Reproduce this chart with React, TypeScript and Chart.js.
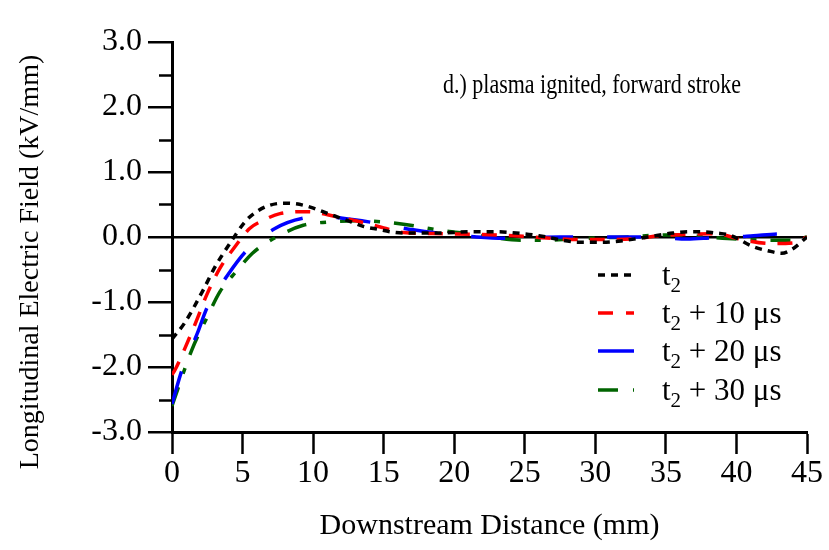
import React, { useEffect, useRef } from "react";
import { Chart, registerables } from "chart.js";

Chart.register(...registerables);

const seriesLabels = ["t₂", "t₂ + 10 μs", "t₂ + 20 μs", "t₂ + 30 μs"];

const xT2 = [0, 0.9, 2.2, 3.05, 4.1, 5.2, 6.0, 6.95, 7.9, 8.8, 9.8, 10.7, 11.7, 12.6, 13.6, 14.3, 16.4, 18.8, 21.1, 23.0, 24.9, 26.0, 28.9, 30.5, 31.8, 33.7, 35.5, 36.7, 37.6, 38.6, 39.5, 41.2, 42.2, 43.2, 44.0, 45.0];
const yT2 = [-1.57, -1.32, -0.82, -0.46, -0.1, 0.24, 0.39, 0.49, 0.52, 0.51, 0.46, 0.39, 0.31, 0.24, 0.16, 0.13, 0.06, 0.06, 0.08, 0.08, 0.05, 0.02, -0.08, -0.08, -0.06, 0.0, 0.06, 0.08, 0.08, 0.06, 0.03, -0.15, -0.21, -0.25, -0.18, 0.0];

const xT10 = [0, 0.2, 0.92, 1.75, 2.46, 3.4, 4.46, 5.5, 6.5, 7.65, 9.55, 11.7, 13.8, 15.0, 16.4, 19.2, 23.0, 24.9, 27.0, 28.7, 30.8, 32.7, 34.6, 36.5, 38.6, 40.0, 42.4, 44.0, 45.0];
const yT10 = [-2.12, -2.05, -1.71, -1.28, -0.89, -0.48, -0.15, 0.13, 0.26, 0.36, 0.39, 0.31, 0.21, 0.14, 0.07, 0.05, 0.03, 0.01, -0.02, -0.04, -0.04, -0.03, 0.02, 0.04, 0.05, -0.02, -0.1, -0.09, 0.0];

const xT20 = [0, 0.7, 1.8, 2.5, 3.9, 5.2, 7.2, 9.3, 10.7, 12.1, 14.3, 17.1, 18.8, 21.6, 23.5, 27.5, 31.5, 34.0, 36.5, 38.4, 40.0, 41.2, 43.3, 45.0];
const yT20 = [-2.57, -2.05, -1.48, -1.08, -0.6, -0.23, 0.12, 0.29, 0.31, 0.29, 0.22, 0.11, 0.06, 0.0, -0.02, 0.0, 0.0, 0.0, -0.03, -0.01, 0.0, 0.02, 0.05, 0.0];

const xT30 = [0, 1.4, 2.5, 3.4, 4.6, 5.7, 7.4, 9.3, 11.0, 13.1, 15.0, 16.9, 18.8, 20.6, 22.5, 24.7, 26.6, 28.4, 30.5, 32.4, 34.4, 36.0, 37.9, 40.0, 42.4, 43.8, 45.0];
const yT30 = [-2.6, -1.74, -1.23, -0.84, -0.52, -0.25, 0.0, 0.18, 0.23, 0.25, 0.23, 0.18, 0.11, 0.06, 0.0, -0.05, -0.05, -0.03, -0.01, 0.0, 0.03, 0.03, 0.0, -0.03, -0.05, -0.05, 0.0];

const xTicks = [0, 5, 10, 15, 20, 25, 30, 35, 40, 45];
const yTicks = [-3, -2, -1, 0, 1, 2, 3];
const yMinorTicks = [-2.5, -1.5, -0.5, 0.5, 1.5, 2.5];

const xTitle = "Downstream Distance (mm)";
const yTitle = "Longitudinal Electric Field (kV/mm)";
const annotationText = "d.) plasma ignited, forward stroke";

const FONT = "'Liberation Serif', 'Times New Roman', serif";

const pts = (xs: number[], ys: number[]) => xs.map((x, i) => ({ x, y: ys[i] }));

const overlayPlugin = {
  id: "overlay",
  afterDraw(chart: any) {
    const { ctx, chartArea, scales } = chart;
    const ys = scales.y;
    ctx.save();
    // minor ticks on y axis
    ctx.strokeStyle = "#000";
    ctx.lineWidth = 2.5;
    yMinorTicks.forEach((v) => {
      const py = Math.round(ys.getPixelForValue(v)) + 0.5;
      ctx.beginPath();
      ctx.moveTo(chartArea.left - 13, py);
      ctx.lineTo(chartArea.left, py);
      ctx.stroke();
    });
    // titles
    ctx.fillStyle = "#000";
    ctx.font = `30px ${FONT}`;
    ctx.textAlign = "center";
    ctx.textBaseline = "middle";
    ctx.fillText(xTitle, (chartArea.left + chartArea.right) / 2, 526);
    ctx.save();
    ctx.font = `28px ${FONT}`;
    ctx.translate(31, 262);
    ctx.rotate(-Math.PI / 2);
    ctx.fillText(yTitle, 0, 0);
    ctx.restore();
    // annotation (condensed to the reference width)
    ctx.save();
    ctx.font = `27px ${FONT}`;
    ctx.textAlign = "left";
    const w = ctx.measureText(annotationText).width;
    const sx = 298 / w;
    ctx.translate(443, 86);
    ctx.scale(sx, 1);
    ctx.fillText(annotationText, 0, 0);
    ctx.restore();
    // legend
    const rowY = [275, 313, 351, 390];
    ctx.textAlign = "left";
    chart.data.datasets.forEach((ds: any, i: number) => {
      const y = rowY[i];
      ctx.save();
      ctx.strokeStyle = ds.borderColor;
      ctx.lineWidth = ds.borderWidth;
      ctx.setLineDash(ds.legendDash);
      ctx.beginPath();
      ctx.moveTo(598, y);
      ctx.lineTo(634, y);
      ctx.stroke();
      ctx.restore();
      const label: string = ds.label;
      const [pre, post] = label.split("₂");
      let x = 662;
      ctx.font = `31px ${FONT}`;
      ctx.textBaseline = "alphabetic";
      const base = y + 10;
      ctx.fillText(pre, x, base);
      x += ctx.measureText(pre).width;
      ctx.font = `21px ${FONT}`;
      ctx.fillText("2", x, base + 7);
      x += ctx.measureText("2").width;
      ctx.font = `31px ${FONT}`;
      ctx.fillText(post, x, base);
    });
    ctx.restore();
  },
};

export default function App() {
  const ref = useRef<HTMLCanvasElement>(null);
  useEffect(() => {
    document.body.style.margin = "0";
    const canvas = ref.current!;
    const chart = new Chart(canvas, {
      type: "line",
      data: {
        datasets: [
          { label: seriesLabels[0], data: pts(xT2, yT2), borderColor: "#000000", borderDash: [7, 6], legendDash: [7, 6] } as any,
          { label: seriesLabels[1], data: pts(xT10, yT10), borderColor: "#ff0000", borderDash: [15, 12], legendDash: [15, 13] } as any,
          { label: seriesLabels[2], data: pts(xT20, yT20), borderColor: "#0000ff", borderDash: [34, 34], legendDash: [] } as any,
          { label: seriesLabels[3], data: pts(xT30, yT30), borderColor: "#006400", borderDash: [20, 14, 6, 14], legendDash: [20, 15, 7, 15] } as any,
        ].map((d: any) => ({ ...d, borderWidth: 3.5, pointRadius: 0, fill: false, tension: 0.4, cubicInterpolationMode: "monotone" })),
      },
      options: {
        animation: false,
        responsive: false,
        maintainAspectRatio: false,
        layout: { padding: { left: 0, top: 42, right: 22, bottom: 0 } },
        plugins: { legend: { display: false }, tooltip: { enabled: false } },
        scales: {
          x: {
            type: "linear",
            min: 0,
            max: 45,
            afterFit: (s: any) => { s.height = 118; },
            afterBuildTicks: (s: any) => { s.ticks = xTicks.map((v) => ({ value: v })); },
            border: { display: true, color: "#000", width: 3 },
            grid: { drawOnChartArea: false, drawTicks: true, tickLength: 22, tickColor: "#000", tickWidth: 2.5, color: "#000" },
            ticks: { color: "#000", font: { family: FONT, size: 32 }, padding: 0, maxRotation: 0 },
          },
          y: {
            type: "linear",
            min: -3,
            max: 3,
            afterFit: (s: any) => { s.width = 172; },
            afterBuildTicks: (s: any) => { s.ticks = yTicks.map((v) => ({ value: v })); },
            border: { display: true, color: "#000", width: 3 },
            grid: {
              drawOnChartArea: true,
              drawTicks: true,
              tickLength: 24,
              tickColor: "#000",
              tickWidth: 2.5,
              lineWidth: 2.5,
              color: (c: any) => (c.tick && c.tick.value === 0 ? "#000" : "rgba(0,0,0,0)"),
            },
            ticks: { color: "#000", font: { family: FONT, size: 32 }, padding: 6, callback: (v: any) => Number(v).toFixed(1) },
          },
        },
      } as any,
      plugins: [overlayPlugin],
    });
    return () => chart.destroy();
  }, []);
  return (
    <div style={{ width: 829, height: 550, position: "relative", background: "#fff" }}>
      <canvas ref={ref} width={829} height={550} style={{ width: 829, height: 550, display: "block" }} />
    </div>
  );
}
